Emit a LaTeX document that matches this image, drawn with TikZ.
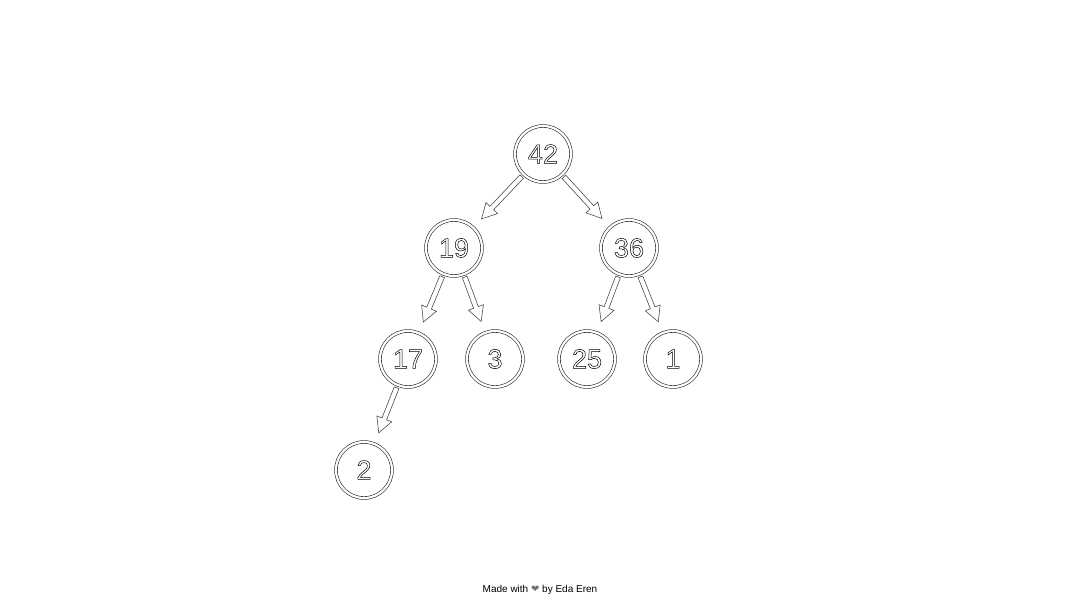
\documentclass[tikz,border=0pt]{standalone}
\usepackage{fontspec}
\setmainfont{Liberation Sans}
\newfontfamily\djv{DejaVu Sans}
\usetikzlibrary{calc}
\newcommand\outl[1]{\special{pdf:literal direct 1 Tr 0.5 w}#1\special{pdf:literal direct 0 Tr}}
\tikzset{
  heapnode/.style={circle, draw=black!85, double=white, double distance=2.2pt,
    line width=0.6pt, minimum size=56pt, inner sep=0pt,
    font=\fontsize{27}{27}\selectfont},
  hollow/.style={draw=black!75, line width=0.55pt, line join=miter, fill=white},
  footer/.style={font=\fontsize{10}{10}\selectfont, inner sep=0pt}
}
\newcommand\harrow[2]{%
  \path ($(#1)!31pt!(#2)$) coordinate (hS) ($(#2)!40pt!(#1)$) coordinate (hT);
  \path ($(hT)!15pt!(hS)$) coordinate (hH);
  \draw[hollow] ($(hS)!2.5pt!90:(hT)$) -- ($(hH)!2.5pt!90:(hT)$)
    -- ($(hH)!8pt!90:(hT)$) -- (hT) -- ($(hH)!8pt!-90:(hT)$)
    -- ($(hH)!2.5pt!-90:(hT)$) -- ($(hS)!2.5pt!-90:(hT)$) -- cycle;}
\begin{document}
\begin{tikzpicture}[x=1pt,y=-1pt]
\fill[white] (0,0) rectangle (1080,608);
\useasboundingbox (0,0) rectangle (1080,608);
\node[heapnode] (n42) at (543,154) {\outl{42}};
\node[heapnode] (n19) at (454,248) {\outl{19}};
\node[heapnode] (n36) at (629,248) {\outl{36}};
\node[heapnode] (n17) at (408,359) {\outl{17}};
\node[heapnode] (n3)  at (495,359) {\outl{3}};
\node[heapnode] (n25) at (587,359) {\outl{25}};
\node[heapnode] (n1)  at (673,359) {\outl{1}};
\node[heapnode] (n2)  at (364,470) {\outl{2}};
\harrow{n42}{n19}
\harrow{n42}{n36}
\harrow{n19}{n17}
\harrow{n19}{n3}
\harrow{n36}{n25}
\harrow{n36}{n1}
\harrow{n17}{n2}
\node[footer] (credit) at (540,589.5) {Made with {\djv\color{black!55}❤} by Eda Eren};
\end{tikzpicture}
\end{document}
